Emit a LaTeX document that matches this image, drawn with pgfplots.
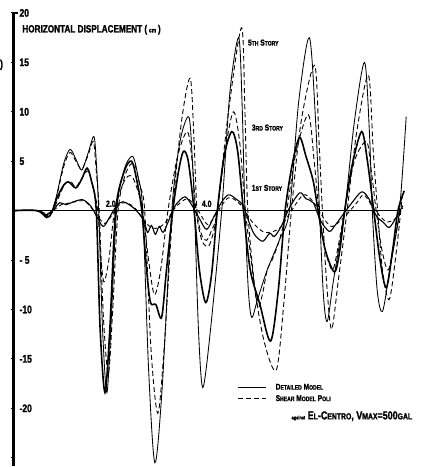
\documentclass[border=0pt]{standalone}
\usepackage{fontspec}
\setmainfont{Liberation Sans}
\newfontfamily\lab{Liberation Sans}[FakeStretch=0.78, BoldFeatures={FakeBold=1.5}]
\usepackage{pgfplots}
\pgfplotsset{compat=1.18}
\newcommand{\sm}[1]{{\fontsize{6.5}{7}\selectfont #1}}
\begin{document}
\begin{tikzpicture}
\begin{axis}[
  scale only axis, width=412pt, height=454pt,
  xmin=0, xmax=8.495, ymin=-25.86, ymax=20,
  axis lines=left,
  x axis line style={draw=none},
  y axis line style={draw=black, -, line width=1.4pt},
  xtick=\empty,
  ytick={-25,-20,-15,-10,-5,5,10,15,20},
  yticklabels={,{-20},{-15},{-10},{- 5},5,10,15,20},
  yticklabel style={anchor=west, xshift=5pt, font=\lab\bfseries\fontsize{11}{12}\selectfont},
  major tick length=4pt, ytick style={draw=black, line width=1pt},
  clip=false,
  legend style={at={(axis cs:4.63,-17.35)}, anchor=north west, draw=none, fill=none,
    font=\lab\bfseries\fontsize{8.5}{9}\selectfont, row sep=1pt, inner sep=0pt,
    nodes={inner sep=1.5pt}, cells={anchor=west},
    /tikz/every odd column/.append style={column sep=8pt}},
  legend image code/.code={\draw[#1] (0pt,0pt) -- (28pt,0pt);},
  every axis plot/.append style={smooth, tension=0.5},
]
% y axis line drawn as a plot
\addplot[black, line width=1.5pt, sharp plot, forget plot] coordinates {(0.02,20) (0.02,-25.86)};
\addplot[black, line width=1.2pt, sharp plot, forget plot] coordinates {(0.02,20) (0.1,20)};
% zero line
\addplot[black, line width=0.8pt, sharp plot, forget plot] coordinates {(0.02,0) (7.98,0)};
% Detailed model, 5th story (thin solid)
\addplot[black, line width=0.85pt] coordinates {
(0,0) (0.5,0) (0.6,-0.3) (0.7,-0.7) (0.8,-0.2) (0.9,1.5) (1.05,4.8) (1.18,6.2) (1.3,5.2) (1.42,4.1) (1.55,5.8) (1.67,7.5) (1.72,5) (1.77,0) (1.85,-12) (1.94,-18.4) (2.03,-11) (2.14,0) (2.3,4.2) (2.47,5.5) (2.58,3.5) (2.68,0) (2.8,-16) (2.93,-25.5) (3.08,-18) (3.28,0) (3.45,7) (3.63,9.5) (3.7,5.5) (3.75,0) (3.83,-12) (3.92,-17.9) (4.08,-12) (4.31,0) (4.48,12) (4.66,17.5) (4.73,11) (4.79,0) (4.86,-8) (4.93,-10.8) (5.05,-9) (5.25,-6) (5.5,-3) (5.71,0) (5.9,11) (6.12,17.5) (6.25,9) (6.33,0) (6.41,-8.5) (6.49,-11.2) (6.62,-7) (6.85,0) (7.05,9) (7.26,15) (7.36,8) (7.42,0) (7.52,-8) (7.63,-10.2) (7.78,-6) (7.98,0) (8.12,9.5)};
\addlegendentry{D\sm{ETAILED} M\sm{ODEL}}
% Shear model, 5th story (dashed)
\addplot[black, line width=0.9pt, dash pattern=on 5pt off 3pt] coordinates {
(0,0) (0.5,0) (0.7,-0.6) (0.8,-0.1) (0.9,1.4) (1.05,4.5) (1.18,5.9) (1.3,5) (1.42,4.2) (1.55,5.6) (1.66,7) (1.72,4) (1.78,0) (1.87,-11) (1.97,-16.5) (2.06,-10) (2.17,0) (2.33,3.8) (2.5,4.8) (2.62,2.5) (2.72,0) (2.85,-14) (2.99,-20.5) (3.12,-14) (3.3,0) (3.48,9) (3.66,13.4) (3.74,7) (3.8,0) (3.9,-2.5) (4.0,-3) (4.1,-2) (4.22,0) (4.45,10) (4.72,18.5) (4.79,10) (4.85,0) (5.0,-8) (5.2,-13.5) (5.44,-16.1) (5.6,-9) (5.75,0) (5.95,9) (6.23,14.7) (6.32,7) (6.39,0) (6.48,-7.5) (6.58,-12) (6.72,-7) (6.9,0) (7.1,8) (7.34,13.7) (7.44,6) (7.53,0) (7.63,-6) (7.77,-9) (7.92,-4) (8.05,2)};
\addlegendentry{S\sm{HEAR} M\sm{ODEL} P\sm{OLI}}
% Detailed model, 3rd story (bold solid)
\addplot[black, line width=1.6pt, forget plot] coordinates {
(0,0) (0.5,0) (0.7,-0.7) (0.8,-0.2) (0.9,1.2) (1.05,2.6) (1.15,2.9) (1.3,2.3) (1.42,3.2) (1.53,4.3) (1.62,3) (1.72,0) (1.8,-12) (1.9,-18.4) (2.0,-12) (2.12,0) (2.3,4) (2.45,5) (2.56,3) (2.66,0) (2.76,-6) (2.84,-9.3) (2.95,-9.5) (3.07,-10.8) (3.17,-6) (3.3,0) (3.42,4) (3.52,6) (3.62,5) (3.74,0) (3.85,-6) (3.98,-9.3) (4.1,-6.5) (4.22,0) (4.36,5.5) (4.52,8) (4.64,6) (4.76,0) (4.9,-6) (5.1,-9.5) (5.32,-13.2) (5.48,-8) (5.62,0) (5.78,5) (5.92,7.4) (6.05,5.5) (6.2,3) (6.3,0) (6.45,-4) (6.64,-6.2) (6.75,-4) (6.85,0) (7.0,4.5) (7.2,8) (7.32,5) (7.45,0) (7.58,-5) (7.71,-7.8) (7.84,-4) (7.95,0) (8.08,2)};
% Shear model, 3rd story (dashed)
\addplot[black, line width=0.9pt, dash pattern=on 5pt off 3pt, forget plot] coordinates {
(0,0) (0.5,0) (0.7,-0.5) (0.85,0.3) (1.05,2.5) (1.18,3) (1.3,2.4) (1.45,3.5) (1.55,4) (1.65,2.5) (1.75,0) (1.82,-5) (1.88,-7.2) (1.98,-5) (2.1,0) (2.3,3) (2.45,3.5) (2.58,2) (2.68,0) (2.8,-5) (2.92,-8.5) (3.05,-6) (3.2,0) (3.4,5.5) (3.6,8) (3.7,5) (3.78,0) (3.9,-3) (4.04,-3.6) (4.15,-2) (4.22,0) (4.38,6) (4.55,10) (4.68,7) (4.8,0) (4.92,-5) (5.05,-9.7) (5.15,-8.5) (5.25,-6) (5.35,-5) (5.5,-3) (5.65,0) (5.85,6) (6.1,9.7) (6.22,5) (6.32,0) (6.45,-4) (6.6,-6) (6.72,-3.5) (6.85,0) (7.05,5) (7.3,7) (7.4,4) (7.5,0) (7.62,-4) (7.75,-6) (7.88,-3) (8.0,0)};
% Detailed model, 1st story (solid)
\addplot[black, line width=1.1pt, forget plot] coordinates {
(0,0) (0.5,0) (0.7,-0.4) (0.85,0.2) (0.97,0.8) (1.1,0.6) (1.25,0.9) (1.44,1.1) (1.6,0.5) (1.72,-0.5) (1.86,-1.6) (1.98,-0.8) (2.14,0.5) (2.27,0.9) (2.4,0.6) (2.55,0) (2.7,-1) (2.78,-2.2) (2.86,-1.5) (2.94,-2.4) (3.02,-1.6) (3.1,-2.2) (3.2,-1.2) (3.35,0.5) (3.55,1.4) (3.7,0.5) (3.85,-0.8) (4.0,-1.9) (4.15,-0.6) (4.3,0.8) (4.45,1.6) (4.6,1.2) (4.75,0.5) (4.9,-1.5) (5.0,-2.5) (5.16,-3.1) (5.3,-2.3) (5.4,-2.6) (5.55,-1.5) (5.7,0.2) (5.92,1.8) (6.05,1.2) (6.2,0.8) (6.35,-1) (6.53,-2.1) (6.65,-1.5) (6.8,-0.5) (7.0,0.8) (7.2,1.9) (7.35,1.2) (7.5,-0.5) (7.65,-1.2) (7.77,-1.7) (7.9,-0.8) (8.05,0.5)};
% Shear model, 1st story (dashed)
\addplot[black, line width=0.9pt, dash pattern=on 4pt off 3pt, forget plot] coordinates {
(0,0) (0.5,0) (0.7,-0.3) (0.85,0.1) (1.0,0.6) (1.2,0.8) (1.45,1.0) (1.6,0.4) (1.75,-0.6) (1.9,-1.3) (2.05,-0.4) (2.2,0.6) (2.35,0.8) (2.55,0.1) (2.75,-1.3) (2.95,-1.8) (3.15,-1.2) (3.35,0.3) (3.6,1.2) (3.8,0.2) (4.02,-1.4) (4.2,-0.3) (4.45,1.3) (4.7,0.6) (4.95,-1.2) (5.2,-2.2) (5.5,-1.8) (5.75,0) (6.0,1.6) (6.2,0.9) (6.45,-1) (6.6,-1.6) (6.85,-0.6) (7.1,0.8) (7.25,1.6) (7.45,0.2) (7.7,-1.1) (7.9,-0.8) (8.05,0.3)};
% texts
\node[anchor=west, inner sep=0pt, font=\lab\bfseries\fontsize{10.5}{11}\selectfont] at (axis cs:0.19,18.3) {HORIZONTAL DISPLACEMENT (\,\sm{cm}\,)};
\node[anchor=west, inner sep=0pt, font=\lab\bfseries\fontsize{8.5}{9}\selectfont] at (axis cs:4.85,17.0) {5\sm{TH} S\sm{TORY}};
\node[anchor=west, inner sep=0pt, font=\lab\bfseries\fontsize{8.5}{9}\selectfont] at (axis cs:4.93,8.4) {3\sm{RD} S\sm{TORY}};
\node[anchor=west, inner sep=0pt, font=\lab\bfseries\fontsize{8.5}{9}\selectfont] at (axis cs:4.93,2.3) {1\sm{ST} S\sm{TORY}};
\node[anchor=south, inner sep=0pt, font=\lab\bfseries\fontsize{9}{9}\selectfont] at (axis cs:2.02,0.35) {2.0};
\node[anchor=south, inner sep=0pt, font=\lab\bfseries\fontsize{9}{9}\selectfont] at (axis cs:4.0,0.35) {4.0};
\node[anchor=west, inner sep=0pt, font=\lab\bfseries\fontsize{11.5}{12}\selectfont] at (axis cs:5.75,-20.8) {{\fontsize{5}{5}\selectfont against}\ E{\fontsize{8.8}{9}\selectfont L}-C{\fontsize{8.8}{9}\selectfont ENTRO}, V{\fontsize{8.8}{9}\selectfont MAX}=500{\fontsize{8.8}{9}\selectfont GAL}};
\node[anchor=west, inner sep=0pt, font=\lab\bfseries\fontsize{11}{12}\selectfont] at (axis cs:-0.27,14.75) {)};
\path (axis cs:-0.268,21.31) rectangle (axis cs:8.495,-25.86);
\end{axis}
\end{tikzpicture}
\end{document}
